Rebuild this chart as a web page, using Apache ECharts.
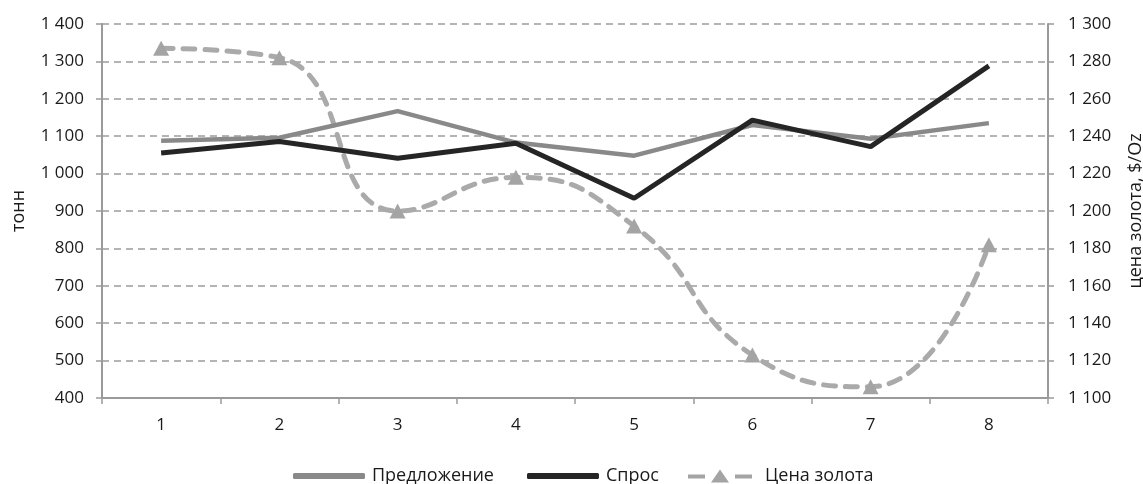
<!DOCTYPE html>
<html>
<head>
<meta charset="utf-8">
<script src="https://cdn.jsdelivr.net/npm/echarts@6/dist/echarts.min.js"></script>
<style>
  html, body { margin: 0; padding: 0; background: #fff; }
  #chart { width: 1143px; height: 484px; }
</style>
</head>
<body>
<div id="chart"></div>
<script>
// Quarters 1..8
const categories = ['1', '2', '3', '4', '5', '6', '7', '8'];
// Supply and demand, tonnes
const supply = [1088, 1096, 1167, 1083, 1048, 1130, 1093, 1135];
const demand = [1055, 1086, 1041, 1081, 934, 1143, 1072, 1288];
// Gold price, $/Oz
const goldPrice = [1287, 1282, 1200, 1218, 1192, 1123, 1106, 1182];

const seriesNames = ['Предложение', 'Спрос', 'Цена золота'];
const leftAxisName = 'тонн';
const rightAxisName = 'цена золота, $/Oz';

// thousands separated by a space: 1 400
const fmt = v => {
  const s = String(Math.round(v));
  return s.length > 3 ? s.slice(0, s.length - 3) + ' ' + s.slice(-3) : s;
};

const font = 'Open Sans, Noto Sans, sans-serif';
const axisColor = '#9a9a9a';
const textColor = '#1a1a1a';
const labelStyle = { color: textColor, fontSize: 17, fontFamily: font };

// legend glyph for the price series: dash, triangle, dash
const goldIcon = 'path://M0,5h17v4h-17z M23,13L32,0L41,13z M47,5h17v4h-17z';

const chart = echarts.init(document.getElementById('chart'), null, { renderer: 'canvas' });
chart.setOption({
  animation: false,
  backgroundColor: '#fff',
  grid: { left: 102, right: 95, top: 24, bottom: 86, containLabel: false, outerBoundsMode: 'none' },
  legend: [
    {
      top: 462,
      left: 288,
      icon: 'roundRect',
      itemWidth: 72,
      itemHeight: 6,
      itemGap: 33,
      textStyle: { color: textColor, fontSize: 18, fontFamily: font, padding: [0, 0, 0, 2] },
      data: [seriesNames[0], seriesNames[1]]
    },
    {
      top: 462,
      left: 683,
      icon: goldIcon,
      itemWidth: 64,
      itemHeight: 13,
      textStyle: { color: textColor, fontSize: 18, fontFamily: font, padding: [0, 0, 0, 8] },
      data: [seriesNames[2]]
    }
  ],
  xAxis: {
    type: 'category',
    data: categories,
    boundaryGap: true,
    axisLine: { lineStyle: { color: axisColor, width: 2 } },
    axisTick: { show: true, length: 6, lineStyle: { color: axisColor, width: 1.5 } },
    axisLabel: Object.assign({ margin: 19 }, labelStyle),
    splitLine: { show: false }
  },
  yAxis: [
    {
      type: 'value',
      min: 400, max: 1400, interval: 100,
      name: leftAxisName,
      nameLocation: 'middle',
      nameGap: 74,
      nameTextStyle: { color: textColor, fontSize: 18, fontFamily: font },
      axisLine: { show: true, lineStyle: { color: axisColor, width: 2 } },
      axisTick: { show: true, length: 6, lineStyle: { color: axisColor, width: 1.5 } },
      axisLabel: Object.assign({ margin: 18, formatter: fmt }, labelStyle),
      splitLine: { show: true, lineStyle: { color: '#9c9c9c', width: 1.5, type: [7, 5] } }
    },
    {
      type: 'value',
      min: 1100, max: 1300, interval: 20,
      name: rightAxisName,
      nameLocation: 'middle',
      nameGap: 79,
      nameTextStyle: { color: textColor, fontSize: 18, fontFamily: font },
      axisLine: { show: true, lineStyle: { color: axisColor, width: 2 } },
      axisTick: { show: true, length: 6, lineStyle: { color: axisColor, width: 1.5 } },
      axisLabel: Object.assign({ margin: 20, formatter: fmt }, labelStyle),
      splitLine: { show: false }
    }
  ],
  series: [
    {
      name: seriesNames[0],
      type: 'line',
      data: supply,
      yAxisIndex: 0,
      symbol: 'none',
      lineStyle: { color: '#898989', width: 4.5 },
      itemStyle: { color: '#898989' },
      z: 3
    },
    {
      name: seriesNames[1],
      type: 'line',
      data: demand,
      yAxisIndex: 0,
      symbol: 'none',
      lineStyle: { color: '#252525', width: 5 },
      itemStyle: { color: '#252525' },
      z: 4
    },
    {
      name: seriesNames[2],
      type: 'line',
      data: goldPrice,
      yAxisIndex: 1,
      smooth: 0.5,
      symbol: 'triangle',
      symbolSize: [16, 15],
      lineStyle: { color: '#aaaaaa', width: 5, type: [12, 10], cap: 'round' },
      itemStyle: { color: '#a4a4a4' },
      z: 2
    }
  ]
});
</script>
</body>
</html>
